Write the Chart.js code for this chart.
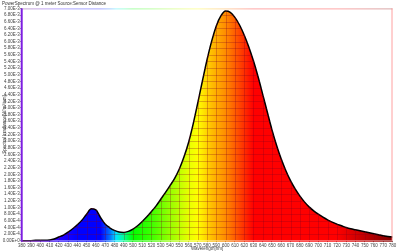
<!DOCTYPE html>
<html>
<head>
<meta charset="utf-8">
<script src="https://cdn.jsdelivr.net/npm/chart.js@4.4.0/dist/chart.umd.min.js"></script>
<style>
  html, body { margin: 0; padding: 0; background: #fff; }
  #wrap { width: 400px; height: 252px; position: relative; }
</style>
</head>
<body>
<div id="wrap"><canvas id="spectrum"></canvas></div>
<script>
// Wavelength samples [nm]
const wavelengths = [
  380, 385, 390, 395, 400, 405, 410, 415, 420, 425,
  430, 435, 440, 445, 450, 455, 460, 465, 470, 475,
  480, 485, 490, 495, 500, 505, 510, 515, 520, 525,
  530, 535, 540, 545, 550, 555, 560, 565, 570, 575,
  580, 585, 590, 595, 600, 605, 610, 615, 620, 625,
  630, 635, 640, 645, 650, 655, 660, 665, 670, 675,
  680, 685, 690, 695, 700, 705, 710, 715, 720, 725,
  730, 735, 740, 745, 750, 755, 760, 765, 770, 775, 780
];

// Spectral irradiance [W/m2/nm]
const irradiance = [
  0.00000, 0.00000, 0.00000, 0.00001, 0.00001, 0.00001, 0.00002, 0.00005, 0.00011, 0.00017,
  0.00026, 0.00036, 0.00048, 0.00062, 0.00080, 0.00096, 0.00093, 0.00070, 0.00050, 0.00039,
  0.00031, 0.00026, 0.00025, 0.00028, 0.00035, 0.00045, 0.00058, 0.00072, 0.00088, 0.00105,
  0.00125, 0.00145, 0.00166, 0.00188, 0.00216, 0.00252, 0.00296, 0.00352, 0.00416, 0.00482,
  0.00546, 0.00602, 0.00648, 0.00678, 0.00692, 0.00688, 0.00673, 0.00650, 0.00620, 0.00584,
  0.00542, 0.00494, 0.00441, 0.00387, 0.00334, 0.00287, 0.00246, 0.00211, 0.00181, 0.00156,
  0.00135, 0.00117, 0.00102, 0.00090, 0.00080, 0.00071, 0.00063, 0.00056, 0.00050, 0.00045,
  0.00040, 0.00036, 0.00033, 0.00030, 0.00027, 0.00024, 0.00021, 0.00018, 0.00015, 0.00013, 0.00011
];

// Axis ranges / tick steps
const xRange = [380, 780];
const xStep = 10;
const yRange = [0, 0.007];
const yStep = 0.0002;

const titleText = 'PowerSpectrum @ 1 meter Source:Sensor Distance';
const xTitle = 'Wavelength[nm]';
const yTitle = 'Spectral Irradiance[W/m²/nm]';

// colour of light per wavelength (style only)
const spectrumStops = [
  [380, [90, 0, 110]], [400, [90, 0, 200]], [420, [40, 0, 255]], [440, [0, 0, 255]],
  [465, [0, 0, 255]], [475, [0, 110, 255]], [482, [0, 230, 255]], [490, [0, 255, 150]],
  [500, [0, 255, 0]], [520, [60, 255, 0]], [540, [150, 255, 0]], [560, [230, 255, 0]],
  [570, [255, 255, 0]], [585, [255, 190, 0]], [600, [255, 140, 0]], [615, [255, 70, 0]],
  [630, [255, 0, 0]], [720, [255, 0, 0]], [780, [130, 0, 0]]
];

const FONT = "'Liberation Sans', Arial, sans-serif";

function spectralGradient(chart, alpha) {
  const { ctx, chartArea: a, scales } = chart;
  const g = ctx.createLinearGradient(a.left, 0, a.right, 0);
  const span = a.right - a.left;
  spectrumStops.forEach(([w, c]) => {
    const pos = (scales.x.getPixelForValue(w) - a.left) / span;
    g.addColorStop(Math.min(1, Math.max(0, pos)), `rgba(${c[0]},${c[1]},${c[2]},${alpha})`);
  });
  return g;
}

// grid only shows inside the coloured area, then the plot frame
const fillGrid = {
  id: 'fillGrid',
  afterDatasetsDraw(chart) {
    const { ctx, chartArea: a, scales: { x, y } } = chart;
    ctx.save();
    ctx.beginPath();
    ctx.rect(a.left, a.top, a.right - a.left, a.bottom - a.top);
    ctx.clip();
    ctx.globalCompositeOperation = 'source-atop';
    ctx.strokeStyle = 'rgba(130,0,30,0.28)';
    ctx.lineWidth = 1;
    ctx.beginPath();
    x.ticks.forEach(t => {
      const px = Math.round(x.getPixelForValue(t.value)) + 0.5;
      ctx.moveTo(px, a.top); ctx.lineTo(px, a.bottom);
    });
    y.ticks.forEach(t => {
      const py = Math.round(y.getPixelForValue(t.value)) + 0.5;
      ctx.moveTo(a.left, py); ctx.lineTo(a.right, py);
    });
    ctx.stroke();
    ctx.restore();

    // frame
    ctx.save();
    ctx.lineWidth = 1;
    ctx.strokeStyle = spectralGradient(chart, 0.35);
    ctx.beginPath(); ctx.moveTo(a.left, a.top + 0.5); ctx.lineTo(a.right, a.top + 0.5); ctx.stroke();
    ctx.strokeStyle = spectralGradient(chart, 1);
    ctx.beginPath(); ctx.moveTo(a.left, a.bottom + 0.5); ctx.lineTo(a.right, a.bottom + 0.5); ctx.stroke();
    ctx.strokeStyle = 'rgba(255,120,120,0.7)';
    ctx.beginPath(); ctx.moveTo(a.right - 0.5, a.top); ctx.lineTo(a.right - 0.5, a.bottom); ctx.stroke();
    ctx.lineWidth = 2;
    ctx.strokeStyle = 'rgb(125,30,225)';
    ctx.beginPath(); ctx.moveTo(a.left, a.top); ctx.lineTo(a.left, a.bottom + 1); ctx.stroke();
    ctx.restore();
  }
};

const ctx = document.getElementById('spectrum').getContext('2d');

new Chart(ctx, {
  type: 'line',
  data: {
    datasets: [{
      label: 'Spectrum',
      data: wavelengths.map((w, i) => ({ x: w, y: irradiance[i] })),
      borderColor: '#000',
      borderWidth: 1.5,
      pointRadius: 0,
      cubicInterpolationMode: 'monotone',
      fill: 'origin',
      backgroundColor: (c) => {
        const chart = c.chart;
        if (!chart.chartArea) return 'rgba(0,0,0,0)';
        return spectralGradient(chart, 1);
      }
    }]
  },
  options: {
    responsive: true,
    maintainAspectRatio: false,
    animation: false,
    layout: { padding: { left: 2, right: 7.5, top: 0, bottom: 0 } },
    plugins: {
      legend: { display: false },
      tooltip: { enabled: false },
      title: {
        display: true,
        text: titleText,
        align: 'start',
        color: '#333',
        font: { family: FONT, size: 4.5, weight: 'normal' },
        padding: { top: 1.5, bottom: 1.5 }
      }
    },
    scales: {
      x: {
        type: 'linear',
        min: xRange[0],
        max: xRange[1],
        afterFit: (s) => { s.height = 11.3; },
        grid: { display: true, drawOnChartArea: false, tickLength: 1.5, color: '#888' },
        border: { display: false },
        ticks: {
          stepSize: xStep,
          autoSkip: false,
          maxRotation: 0,
          padding: 0.5,
          color: '#444',
          font: { family: FONT, size: 4.5 }
        },
        title: {
          display: true,
          text: xTitle,
          color: '#444',
          padding: { top: 0, bottom: 0.5 },
          font: { family: FONT, size: 4.5 }
        }
      },
      y: {
        type: 'linear',
        min: yRange[0],
        max: yRange[1],
        afterFit: (s) => { s.width = 19.7; },
        grid: { display: true, drawOnChartArea: false, tickLength: 1.5, color: '#888' },
        border: { display: false },
        ticks: {
          stepSize: yStep,
          autoSkip: false,
          padding: 0.5,
          color: '#444',
          font: { family: FONT, size: 4.5 },
          callback: (v) => Number(v).toExponential(2).toUpperCase()
        },
        title: {
          display: true,
          text: yTitle,
          color: '#444',
          padding: { top: 0, bottom: 0 },
          font: { family: FONT, size: 4.5 }
        }
      }
    }
  },
  plugins: [fillGrid]
});
</script>
</body>
</html>
